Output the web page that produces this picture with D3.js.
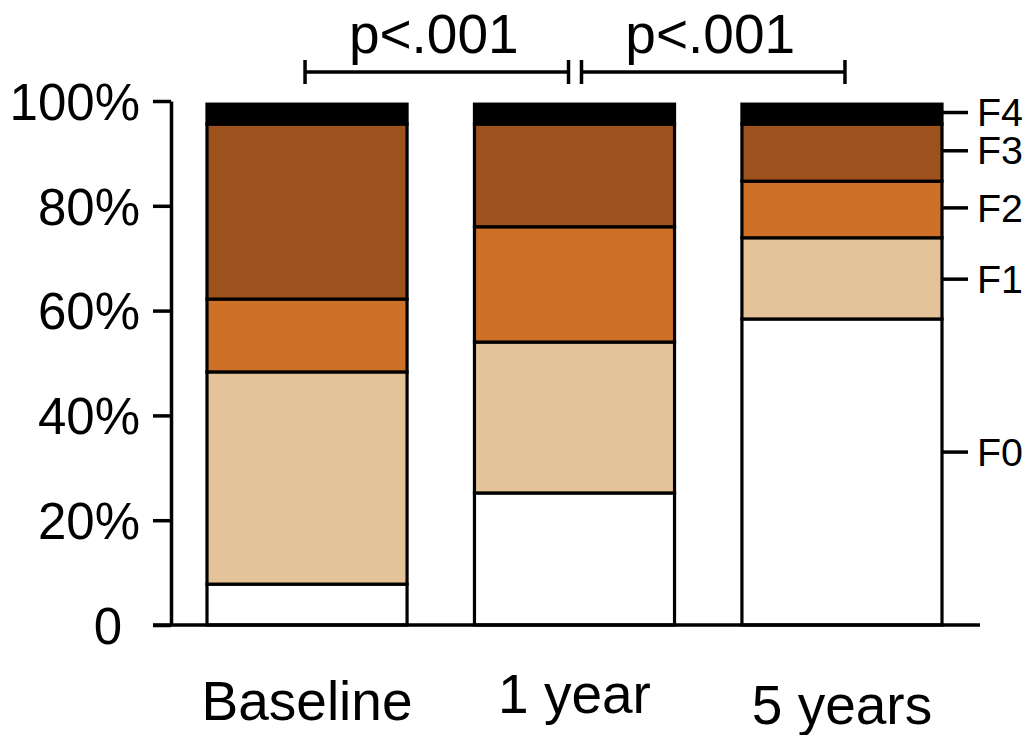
<!DOCTYPE html>
<html>
<head>
<meta charset="utf-8">
<script src="https://cdn.jsdelivr.net/npm/d3@7"></script>
<style>
  body { margin: 0; background: #fff; }
  svg { font-family: "Liberation Sans", Arial, sans-serif; }
</style>
</head>
<body>
<div id="chart"></div>
<script>
// categories along x
const timepoints = ["Baseline", "1 year", "5 years"]
// fibrosis stages, bottom to top
const stages = ["F0", "F1", "F2", "F3", "F4"]
// share of patients per stage (%)
const f0 = [7.8, 25.2, 58.4]
const f1 = [40.5, 28.8, 15.5]
const f2 = [13.9, 22.0, 10.8]
const f3 = [33.4, 19.6, 10.9]
const f4 = [3.8, 3.8, 3.8]
const yTicks = [0, 20, 40, 60, 80, 100]
// where the stage labels on the right sit (%)
const stageLabelPos = [33, 66, 79.6, 90.5, 97.8]
const comparisons = [["Baseline", "1 year", "p<.001"], ["1 year", "5 years", "p<.001"]]

const colors = ["#ffffff", "#e5c398", "#cf7029", "#9d511c", "#000000"]

const width = 1034, height = 735

const rows = timepoints.map((t, i) => ({
  time: t, F0: f0[i], F1: f1[i], F2: f2[i], F3: f3[i], F4: f4[i]
}))
const series = d3.stack().keys(stages)(rows)
const color = d3.scaleOrdinal(stages, colors)

const x = d3.scaleBand()
  .domain(timepoints)
  .range([207, 942])
  .paddingInner(0.252)
  .paddingOuter(0)

const y = d3.scaleLinear()
  .domain([0, 100])
  .range([625, 101])

const svg = d3.select("#chart").append("svg")
  .attr("width", width)
  .attr("height", height)

// bars
const gBars = svg.append("g")
series.forEach(s => {
  gBars.append("g")
    .selectAll("rect")
    .data(s)
    .join("rect")
    .attr("x", d => x(d.data.time))
    .attr("y", d => y(d[1]))
    .attr("width", x.bandwidth())
    .attr("height", d => y(d[0]) - y(d[1]))
    .attr("fill", color(s.key))
    .attr("stroke", "#000")
    .attr("stroke-width", 3.2)
})

// left axis
const yAxis = d3.axisLeft(y)
  .tickValues(yTicks)
  .tickFormat(d => d === 0 ? "0" : d + "%")
  .tickSize(18)
  .tickSizeOuter(0)
  .tickPadding(13)

const gy = svg.append("g")
  .attr("transform", "translate(171,0)")
  .call(yAxis)
gy.select(".domain").attr("stroke-width", 3.5)
gy.selectAll(".tick line").attr("stroke-width", 3.5)
gy.selectAll(".tick text")
  .attr("font-size", 51)
  .attr("font-family", "Liberation Sans, Arial, sans-serif")
  .attr("fill", "#000")
  .attr("dy", "0.36em")
  .attr("x", d => d === 0 ? -49 : -31)

// bottom baseline
svg.append("line")
  .attr("x1", 153).attr("x2", 980)
  .attr("y1", y(0)).attr("y2", y(0))
  .attr("stroke", "#000")
  .attr("stroke-width", 3.5)

// x labels (they sit at slightly different heights in the original)
const labelShift = { "Baseline": 0, "1 year": -7, "5 years": 4 }
svg.append("g")
  .selectAll("text")
  .data(timepoints)
  .join("text")
  .attr("x", d => x(d) + x.bandwidth() / 2)
  .attr("y", d => 720 + labelShift[d])
  .attr("text-anchor", "middle")
  .attr("font-size", 55)
  .text(d => d)

// stage labels on the right
const last = timepoints[timepoints.length - 1]
const xr = x(last) + x.bandwidth()
const gStage = svg.append("g")
stages.forEach((s, i) => {
  gStage.append("line")
    .attr("x1", xr).attr("x2", xr + 26)
    .attr("y1", y(stageLabelPos[i])).attr("y2", y(stageLabelPos[i]))
    .attr("stroke", "#000")
    .attr("stroke-width", 3.5)
  gStage.append("text")
    .attr("x", xr + 35)
    .attr("y", y(stageLabelPos[i]))
    .attr("dy", "0.36em")
    .attr("font-size", 38)
    .attr("textLength", 46)
    .attr("lengthAdjust", "spacingAndGlyphs")
    .text(s)
})

// significance brackets
const cx = t => x(t) + x.bandwidth() / 2
const by = 72
comparisons.forEach(([a, b, label], i) => {
  const x1 = cx(a) + (i === 0 ? -2 : 7)
  const x2 = cx(b) + (i === 0 ? -6 : 3)
  const g = svg.append("g")
  g.append("line")
    .attr("x1", x1).attr("x2", x2)
    .attr("y1", by).attr("y2", by)
    .attr("stroke", "#000").attr("stroke-width", 3.5)
  ;[x1, x2].forEach(xx => {
    g.append("line")
      .attr("x1", xx).attr("x2", xx)
      .attr("y1", by - 12).attr("y2", by + 12)
      .attr("stroke", "#000").attr("stroke-width", 3.5)
  })
  g.append("text")
    .attr("x", (x1 + x2) / 2 - 3)
    .attr("y", 53)
    .attr("text-anchor", "middle")
    .attr("font-size", 55)
    .text(label)
})
</script>
</body>
</html>
